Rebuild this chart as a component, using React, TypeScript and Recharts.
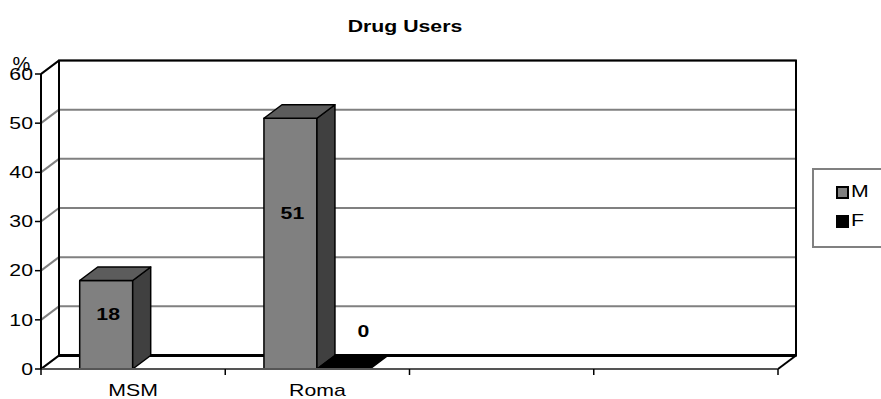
import React from 'react';
import {
  BarChart,
  Bar,
  XAxis,
  YAxis,
  CartesianGrid,
  ReferenceArea,
  LabelList,
  Legend
} from 'recharts';

// categories (the last two are empty slots in the original sheet)
const categories = ['MSM', 'Roma', ' ', '  '];
const seriesNames = ['M', 'F'];
const maleValues = [18, 51, null, null];
const femaleValues = [null, 0, null, null];
const yTicks = [0, 10, 20, 30, 40, 50, 60];

const data = categories.map((name, i) => ({
  name,
  M: maleValues[i],
  F: femaleValues[i]
}));

// 3D depth of the fake perspective
const DX = 18;
const DY = 13.5;
const FONT = '"Liberation Sans", Arial, sans-serif';
const FS = 17;
const STRETCH = 1.25;
const LEGEND_W = 90;

const makeBar3D = (dataKey: string, front: string, side: string, top: string) => (props: any) => {
  const { x, y, width, height, payload } = props;
  if (payload == null || payload[dataKey] == null || x == null || !width) return <g />;
  const b = y + height;
  const r = x + width;
  return (
    <g stroke="#000" strokeWidth={1.5} strokeLinejoin="round">
      {height > 0 && <rect x={x} y={y} width={width} height={height} fill={front} />}
      {height > 0 && (
        <polygon points={`${r},${y} ${r + DX},${y - DY} ${r + DX},${b - DY} ${r},${b}`} fill={side} />
      )}
      <polygon points={`${x},${y} ${x + DX},${y - DY} ${r + DX},${y - DY} ${r},${y}`} fill={top} />
    </g>
  );
};

const renderValueLabel = (props: any) => {
  const vb = props.viewBox || props;
  const { x, y, width, height } = vb;
  const value = props.value;
  if (value == null || x == null) return null;
  const zero = Number(value) === 0;
  const cx = zero ? x + width / 2 + 20 : x + width / 2 + 2;
  const cy = zero ? y - 38 : y + height * 0.38;
  return (
    <text
      transform={`translate(${cx},${cy}) scale(${STRETCH},1)`}
      textAnchor="middle"
      dominantBaseline="central"
      fontWeight="bold"
      fontSize={FS}
      fontFamily={FONT}
      fill="#000"
    >
      {value}
    </text>
  );
};

const renderGridLine = (props: any) => {
  const { x1, y1, x2, y2 } = props;
  return (
    <g key={props.key ?? `gl-${props.index}`}>
      <line x1={x1 + DX} y1={y1 - DY} x2={x2 + DX} y2={y2 - DY} stroke="#808080" strokeWidth={2} />
      <line x1={x1} y1={y1} x2={x1 + DX} y2={y1 - DY} stroke="#808080" strokeWidth={2} />
    </g>
  );
};

const renderWalls = (props: any) => {
  const { x, y, width, height } = props;
  if (x == null) return <g />;
  const r = x + width;
  const b = y + height;
  return (
    <g fill="none" stroke="#000">
      <rect x={x + DX} y={y - DY} width={width} height={height} strokeWidth={2} />
      <line x1={x + DX} y1={b - DY} x2={r + DX} y2={b - DY} strokeWidth={3} />
      <line x1={x} y1={y} x2={x + DX} y2={y - DY} strokeWidth={2} />
      <line x1={x} y1={b} x2={x + DX} y2={b - DY} strokeWidth={2} />
      <line x1={r} y1={b} x2={r + DX} y2={b - DY} strokeWidth={2} />
    </g>
  );
};

const XTick = (props: any) => {
  const { x, y, payload, index, visibleTicksCount } = props;
  const half = payload?.offset ?? 0;
  return (
    <g>
      <line x1={x - half} y1={y} x2={x - half} y2={y + 6} stroke="#000" strokeWidth={1.5} />
      {index === visibleTicksCount - 1 && (
        <line x1={x + half} y1={y} x2={x + half} y2={y + 6} stroke="#000" strokeWidth={1.5} />
      )}
      <text
        transform={`translate(${x},${y + 27}) scale(${STRETCH},1)`}
        textAnchor="middle"
        fontSize={FS}
        fontFamily={FONT}
        fill="#000"
      >
        {payload.value}
      </text>
    </g>
  );
};

const YTick = (props: any) => {
  const { x, y, payload } = props;
  return (
    <text
      transform={`translate(${x},${y}) scale(${STRETCH},1)`}
      textAnchor="end"
      dominantBaseline="central"
      fontSize={FS}
      fontFamily={FONT}
      fill="#000"
    >
      {payload.value}
    </text>
  );
};

const PercentLabel = (props: any) => {
  const vb = props.viewBox || {};
  const cx = (vb.x ?? 0) + (vb.width ?? 41) / 2 + 1;
  const top = vb.y ?? 74;
  return (
    <text x={cx} y={top - 3} textAnchor="middle" fontSize={20} fontFamily={FONT} fill="#000">
      %
    </text>
  );
};

const LegendBox = (props: any) => {
  const items = [...(props.payload || [])].sort(
    (a: any, b: any) => seriesNames.indexOf(a.value) - seriesNames.indexOf(b.value)
  );
  return (
    <div
      style={{
        width: LEGEND_W,
        height: 80,
        border: '2px solid #808080',
        boxSizing: 'border-box',
        position: 'relative',
        fontFamily: FONT,
        fontSize: FS,
        background: '#fff'
      }}
    >
      {items.map((it: any, i: number) => (
        <div key={it.value} style={{ position: 'absolute', left: 22, top: 13 + i * 29, height: 18, display: 'flex', alignItems: 'center' }}>
          <span
            style={{
              display: 'inline-block',
              width: 13,
              height: 13,
              boxSizing: 'border-box',
              background: it.value === 'M' ? '#808080' : '#000',
              border: '2px solid #000'
            }}
          />
          <span style={{ marginLeft: 2, display: 'inline-block', transform: `scaleX(${STRETCH})`, transformOrigin: 'left center' }}>
            {it.value}
          </span>
        </div>
      ))}
    </div>
  );
};

export default function App() {
  return (
    <div style={{ position: 'absolute', left: 0, top: 0, width: 881, height: 399, overflow: 'hidden', background: '#fff' }}>
      <BarChart
        width={881}
        height={399}
        data={data}
        margin={{ top: 74, right: 103 - LEGEND_W, bottom: 0, left: 0 }}
        barCategoryGap="21%"
        barGap={0}
      >
        <CartesianGrid vertical={false} horizontal={renderGridLine} />
        <ReferenceArea y1={0} y2={60} shape={renderWalls} ifOverflow="visible" zIndex={-90} />
        <XAxis
          dataKey="name"
          height={30}
          interval={0}
          tickLine={false}
          tickSize={0}
          tickMargin={0}
          axisLine={{ stroke: '#555', strokeWidth: 2 }}
          tick={(p: any) => <XTick {...p} />}
        />
        <YAxis
          width={41}
          domain={[0, 60]}
          ticks={yTicks}
          interval={0}
          tickSize={6}
          tickMargin={2}
          axisLine={{ stroke: '#000', strokeWidth: 2 }}
          tickLine={{ stroke: '#000', strokeWidth: 1.5 }}
          tick={(p: any) => <YTick {...p} />}
          label={(p: any) => <PercentLabel {...p} />}
        />
        <Legend
          layout="horizontal"
          verticalAlign="middle"
          align="right"
          content={(p: any) => <LegendBox {...p} />}
          wrapperStyle={{ left: 812, top: 168, width: LEGEND_W, right: 'auto', bottom: 'auto' }}
        />
        <Bar dataKey="M" name="M" fill="#808080" isAnimationActive={false} shape={makeBar3D('M', '#808080', '#404040', '#5c5c5c')}>
          <LabelList dataKey="M" content={renderValueLabel} />
        </Bar>
        <Bar dataKey="F" name="F" fill="#000000" isAnimationActive={false} shape={makeBar3D('F', '#000', '#000', '#000')}>
          <LabelList dataKey="F" content={renderValueLabel} />
        </Bar>
      </BarChart>
      <svg width={881} height={399} style={{ position: 'absolute', left: 0, top: 0, pointerEvents: 'none' }}>
        <text
          transform={`translate(405,32) scale(${STRETCH},1)`}
          textAnchor="middle"
          fontWeight="bold"
          fontSize={FS}
          fontFamily={FONT}
          fill="#000"
        >
          Drug Users
        </text>
      </svg>
    </div>
  );
}
